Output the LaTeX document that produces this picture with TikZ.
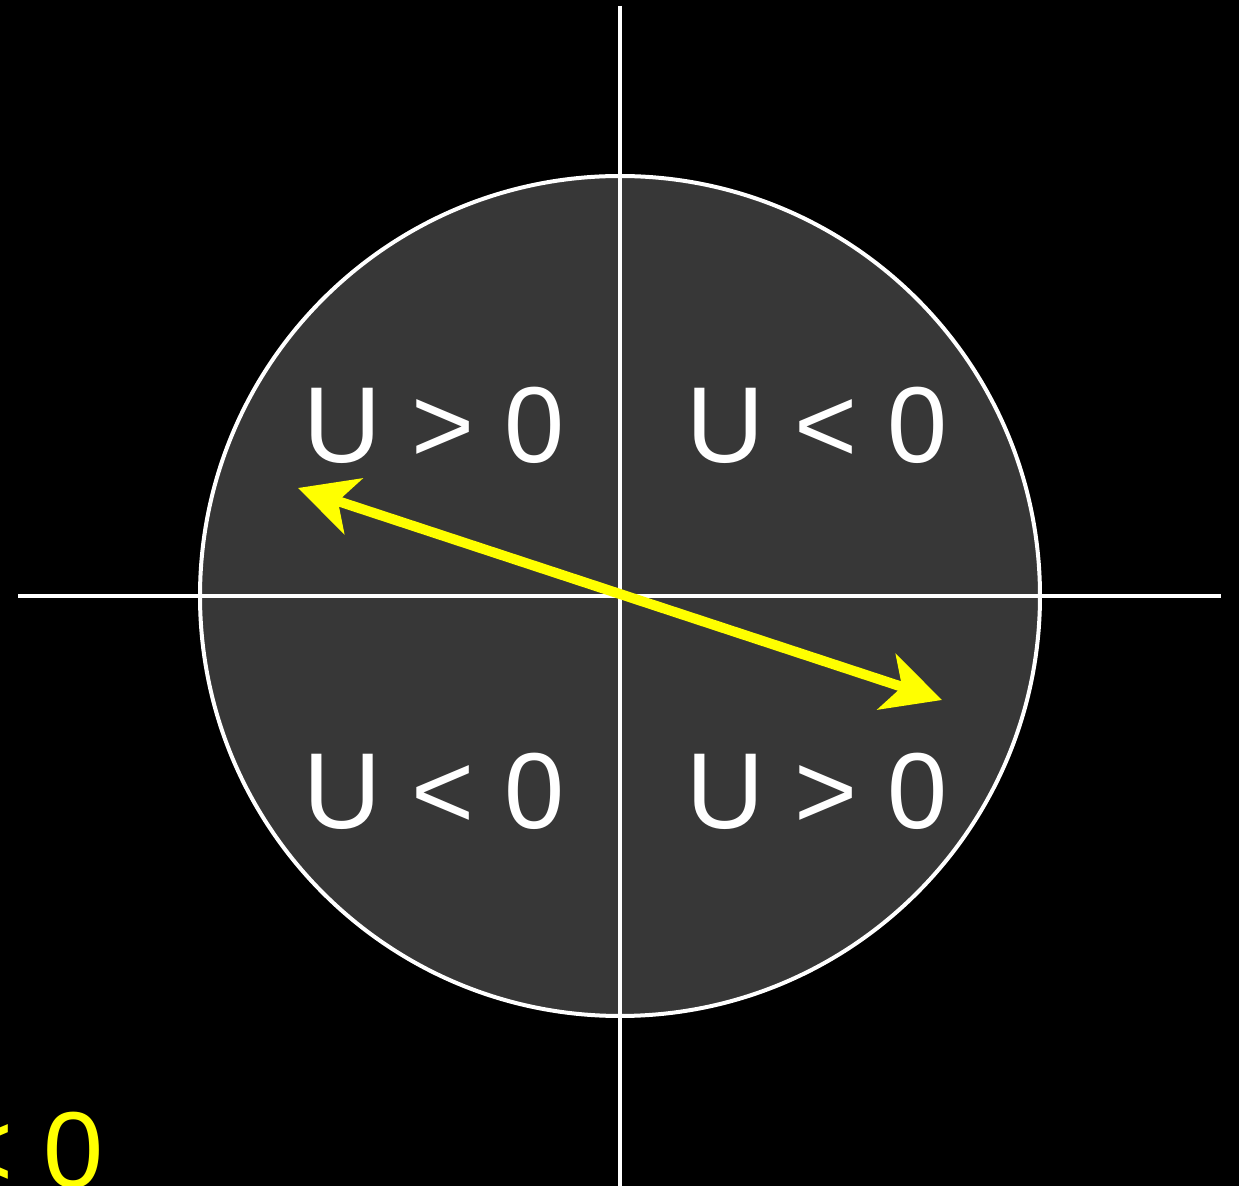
\documentclass[tikz,border=0pt]{standalone}
\usepackage{fontspec}
\setmainfont{Liberation Sans}
\usepackage{tikz}
\usetikzlibrary{
    arrows.meta,
    positioning
}
\definecolor{diskgray}{HTML}{373737}
\definecolor{arryellow}{HTML}{FFFF00}

\begin{document}
\begin{tikzpicture}[x=0.5pt,y=-0.5pt,
   axis/.style={draw=white,line width=2pt},
   disk/.style={circle,draw=white,line width=2pt,fill=diskgray,minimum size=420pt,inner sep=0pt},
   lbl/.style={text=white,font=\fontsize{54}{62}\selectfont,inner sep=0pt},
   vec/.style={draw=arryellow,line width=5pt,
      {Stealth[length=29pt,width=29pt,inset=8pt]}-{Stealth[length=29pt,width=29pt,inset=8pt]}}]
  % background and frame
  \fill[black] (0,0) rectangle (1239,1186);
  \useasboundingbox (0,0) rectangle (1239,1186);
  % disk and axes
  \node[disk](d0) at (620,596){};
  \coordinate (top) at (620,6);   \coordinate (bot) at (620,1186);
  \coordinate (lft) at (18,596);  \coordinate (rgt) at (1221,596);
  \draw[axis] (top)--(bot); \draw[axis] (lft)--(rgt);
  % quadrant labels
  \node[lbl](q2) at (434,425){U > 0}; \node[lbl](q1) at (817,425){U < 0};
  \node[lbl](q3) at (434,791){U < 0}; \node[lbl](q4) at (817,791){U > 0};
  % yellow vector
  \coordinate (pL) at (298,488); \coordinate (pR) at (942,700);
  \draw[vec] (pL)--(pR);
  \node[lbl,text=arryellow,anchor=east](ylab) at (104,1150){U < 0};
\end{tikzpicture}
\end{document}
